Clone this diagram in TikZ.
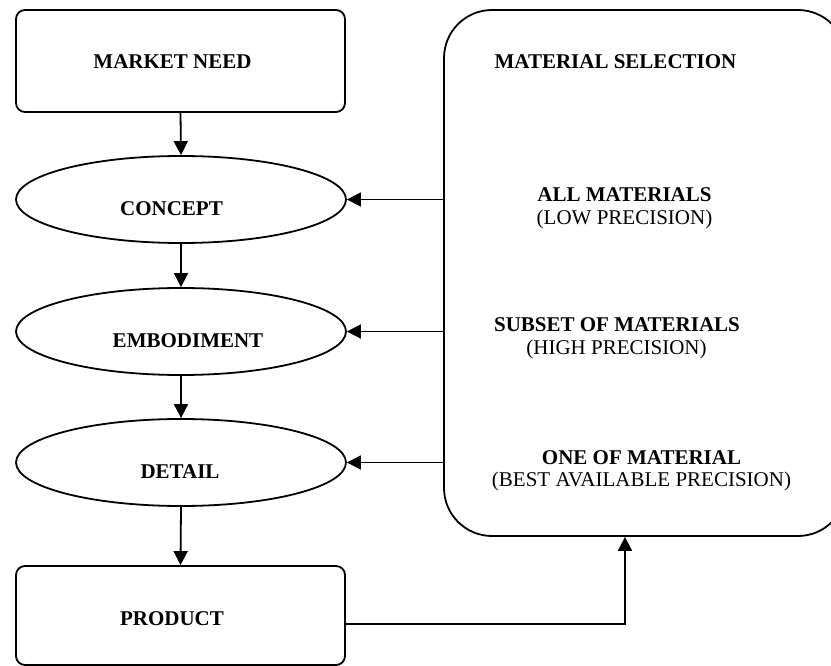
\documentclass[tikz,border=0pt]{standalone}
\usepackage{fontspec}
\setmainfont{Liberation Serif}
\usetikzlibrary{shapes.geometric,arrows.meta}
\begin{document}
\begin{tikzpicture}[x=1pt,y=-1pt,
  outline/.style={draw=black, line width=1.8pt},
  boxshape/.style={outline, rectangle, rounded corners=9pt, minimum width=329pt, minimum height=102pt, inner sep=0pt},
  ovalshape/.style={outline, ellipse, minimum width=330pt, minimum height=87pt, inner sep=0pt},
  bigpanel/.style={outline, rectangle, rounded corners=48pt, minimum width=402pt, minimum height=526pt, inner sep=0pt},
  flow/.style={line width=1.8pt, -{Triangle[length=14pt,width=14pt]}},
  title/.style={anchor=base, inner sep=0pt, font=\fontsize{21pt}{21pt}\selectfont\bfseries},
  note/.style={anchor=base, inner sep=0pt, font=\fontsize{21pt}{21pt}\selectfont},
]
\useasboundingbox (0,0) rectangle (831,666);
\clip (0,0) rectangle (831,666);

% design stages on the left
\node[boxshape] (need) at (180.5,61) {};
\node[ovalshape] (concept) at (181,199.5) {};
\node[ovalshape] (embod) at (181,331.5) {};
\node[ovalshape] (detail) at (181,462.5) {};
\node[boxshape, minimum height=99pt] (product) at (180.5,615.5) {};

% material selection panel on the right
\node[bigpanel] (sel) at (645,273) {};

% stage labels
\node[title] (t-need) at (172.5,69) {MARKET NEED};
\node[title] (t-concept) at (171.5,215) {CONCEPT};
\node[title] (t-embod) at (188,347) {EMBODIMENT};
\node[title] (t-detail) at (180,478) {DETAIL};
\node[title] (t-product) at (172,625) {PRODUCT};

% panel labels
\node[title] (t-sel) at (615.5,69) {MATERIAL SELECTION};
\node[title] (t-all) at (624.5,201.5) {ALL MATERIALS};
\node[note] (n-all) at (624.5,225) {(LOW PRECISION)};
\node[title] (t-sub) at (617,331.5) {SUBSET OF MATERIALS};
\node[note] (n-sub) at (616.5,354) {(HIGH PRECISION)};
\node[title] (t-one) at (641.5,464) {ONE OF MATERIAL};
\node[note] (n-one) at (641.5,486) {(BEST AVAILABLE PRECISION)};

% flow down the stages
\draw[flow] (need.south) -- (concept.north);
\draw[flow] (concept.south) -- (embod.north);
\draw[flow] (embod.south) -- (detail.north);
\draw[flow] (detail.south) -- (product.north);

% feedback from the panel into each stage
\draw[flow] (sel.west |- concept.east) -- (concept.east);
\draw[flow] (sel.west |- embod.east) -- (embod.east);
\draw[flow] (sel.west |- detail.east) -- (detail.east);

% product back into the panel
\coordinate (pout) at ([yshift=-8.5pt]product.east);
\coordinate (pin) at ([xshift=-20pt]sel.south);
\draw[flow] (pout) -| (pin);
\end{tikzpicture}
\end{document}
